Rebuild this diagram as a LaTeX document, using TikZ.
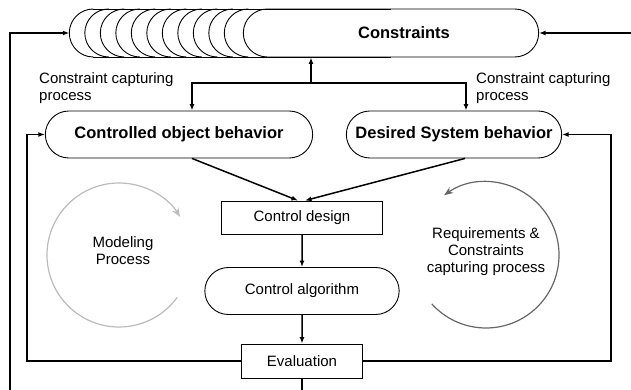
\documentclass[tikz,border=0pt]{standalone}
\usepackage{fontspec}
\setmainfont{Liberation Sans}
\usepackage{xcolor}
\usetikzlibrary{arrows.meta,shapes.misc,calc}

\definecolor{cModel}{HTML}{BBBBBB}
\definecolor{cReq}{HTML}{666666}
\newcommand{\lblfont}{\fontsize{15}{17}\selectfont}
\newcommand{\hdfont}{\fontsize{16.5}{19}\selectfont\bfseries}

\begin{document}
\begin{tikzpicture}[x=1pt,y=1pt,
    >={Latex[length=6.5pt,width=5pt]},
    conn/.style={line width=1.5pt,->},
    txt/.style={font=\lblfont,align=center,inner sep=0pt},
    pill/.style={draw,rounded rectangle,line width=0.9pt,minimum height=47pt},
    bx/.style={draw,rectangle,line width=0.9pt,font=\lblfont},
    loopy/.style={line width=1.2pt,-{Stealth[length=9pt,width=7pt]}}]
  \useasboundingbox (0,0) rectangle (631,390);
  \clip (0,0) rectangle (631,390);

  % constraints store
  \node[pill,minimum width=302pt,minimum height=48pt] (cons) at (391,357) {};
  \node[txt,font=\hdfont] (constxt) at (404,357) {Constraints};
  \coordinate (consL) at (69.3,357);
  \draw[line width=0.9pt] (93.3,381) -- (391,381) (93.3,333) -- (391,333);
  \foreach \i in {0,...,10}
    \draw[line width=0.9pt] (93.3+15.5*\i,381) arc[start angle=90,end angle=270,radius=24];

  \node[pill,font=\hdfont,minimum width=274pt] (ctrl) at (179,255.5) {Controlled object behavior};
  \node[pill,font=\hdfont,minimum width=222pt] (des) at (454,255.5) {Desired System behavior};
  \node[bx,minimum width=161pt,minimum height=33pt] (design) at (302,172.5) {Control design};
  \node[pill,font=\lblfont,minimum width=201pt] (algo) at (302,99) {Control algorithm};
  \node[bx,minimum width=121pt,minimum height=34pt] (eval) at (302,29) {Evaluation};

  \node[txt,align=left,anchor=north west] (capL) at (39,318) {Constraint capturing\\process};
  \node[txt,align=left,anchor=north west] (capR) at (476,318) {Constraint capturing\\process};
  \node[txt] (model) at (123,139) {Modeling\\Process};
  \node[txt] (req) at (486,138) {Requirements \&\\Constraints\\capturing process};

  % process cycles
  \draw[loopy,color=cModel] (119,135) ++(-36:72) arc[start angle=-36,end angle=-328,radius=72];
  \draw[loopy,color=cReq] (486,135) ++(-138:73) arc[start angle=-138,end angle=125,radius=73];

  \coordinate (split) at (311,307);
  \draw[conn] (split) -- (split |- cons.south);
  \draw[conn] (split) -| ([xshift=13pt]ctrl.north);
  \draw[conn] (split) -| ([xshift=12pt]des.north);
  \draw[conn] ([xshift=13pt]ctrl.south) -- ([xshift=-4pt]design.north);
  \draw[conn] ([xshift=11pt]des.south) -- ([xshift=3pt]design.north);
  \draw[conn] (design) -- (algo);
  \draw[conn] (algo) -- (eval);

  % feedback loops
  \coordinate (fbL) at (27,29);
  \coordinate (fbR) at (611,29);
  \draw[conn] (eval.west) -- (fbL) |- (ctrl.west);
  \draw[conn] (eval.east) -- (fbR) |- (des.east);
  \coordinate (outL) at (10,-10);
  \coordinate (outR) at (645,-10);
  \draw[conn] (eval.south) |- (outL) |- (consL);
  \draw[conn] (eval.south) |- (outR) |- (cons.east);
\end{tikzpicture}
\end{document}
